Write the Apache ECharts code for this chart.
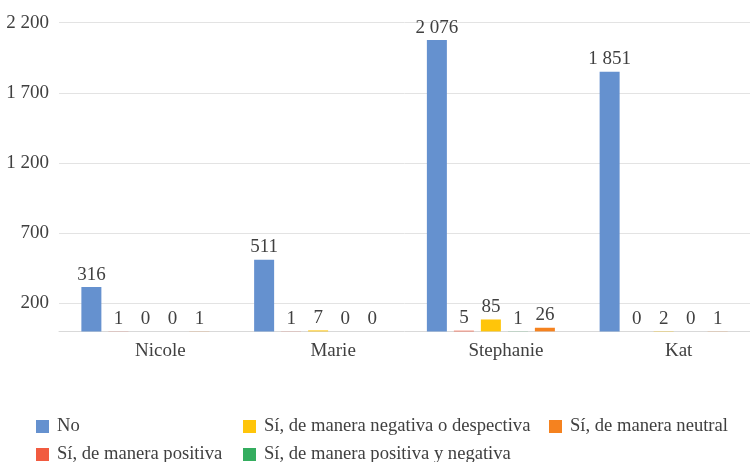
<!DOCTYPE html>
<html>
<head>
<meta charset="utf-8">
<script src="https://cdn.jsdelivr.net/npm/echarts@6/dist/echarts.min.js"></script>
<style>
  html, body { margin: 0; padding: 0; background: #ffffff; }
  #chart { width: 750px; height: 462px; }
</style>
</head>
<body>
<div id="chart"></div>
<script>
// Categories and series values
const categories = ['Nicole', 'Marie', 'Stephanie', 'Kat'];
const seriesNames = [
  'No',
  'Sí, de manera positiva',
  'Sí, de manera negativa o despectiva',
  'Sí, de manera positiva y negativa',
  'Sí, de manera neutral'
];
const valuesNo       = [316, 511, 2076, 1851];
const valuesPositiva = [1, 1, 5, 0];
const valuesNegativa = [0, 7, 85, 2];
const valuesPosNeg   = [0, 0, 1, 0];
const valuesNeutral  = [1, 0, 26, 1];
const yTickValues = [200, 700, 1200, 1700, 2200];

const seriesValues = [valuesNo, valuesPositiva, valuesNegativa, valuesPosNeg, valuesNeutral];
const seriesColors = ['#6591CF', '#F15B40', '#FFC50A', '#34AD5F', '#F5821F'];

const fmt = v => String(v).replace(/\B(?=(\d{3})+(?!\d))/g, ' ');
const FONT = '"Liberation Serif", "Times New Roman", serif';
const TEXT = '#404040';

// Legend slots: [series index, left, top]
const legendSlots = [
  [0, 36, 417],
  [2, 243, 417],
  [4, 549, 417],
  [1, 36, 445],
  [3, 243, 445]
];

const chart = echarts.init(document.getElementById('chart'), null, { renderer: 'canvas' });

chart.setOption({
  animation: false,
  backgroundColor: '#ffffff',
  textStyle: { fontFamily: FONT },
  grid: { left: 59, right: -4, top: 22.7, bottom: 130.6, containLabel: false },
  legend: legendSlots.map(([idx, left, top]) => ({
    left: left,
    top: top,
    padding: 0,
    itemWidth: 13,
    itemHeight: 13,
    icon: 'rect',
    selectedMode: false,
    data: [seriesNames[idx]],
    textStyle: { fontFamily: FONT, fontSize: 18.6, color: TEXT, padding: [0, 0, 0, 3] }
  })),
  xAxis: {
    type: 'category',
    data: categories,
    axisLine: { show: true, lineStyle: { color: '#D9D9D9', width: 1 } },
    axisTick: { show: false },
    axisLabel: {
      fontFamily: FONT, fontSize: 19, color: TEXT, margin: 10,
      padding: [0, 0, 0, 30]
    }
  },
  yAxis: {
    type: 'value',
    min: 0,
    max: 2200,
    axisLine: { show: false },
    axisTick: { show: false, customValues: yTickValues },
    axisLabel: {
      customValues: yTickValues,
      fontFamily: FONT, fontSize: 19, color: TEXT, margin: 10,
      formatter: v => fmt(v)
    },
    splitLine: { show: true, lineStyle: { color: '#E3E3E3', width: 1 } }
  },
  series: seriesNames.map((name, i) => ({
    name: name,
    type: 'bar',
    data: seriesValues[i],
    barWidth: 20,
    barGap: '35%',
    itemStyle: { color: seriesColors[i] },
    label: {
      show: true,
      position: 'top',
      distance: 3,
      fontFamily: FONT,
      fontSize: 19,
      color: TEXT,
      formatter: p => fmt(p.value)
    }
  }))
});
</script>
</body>
</html>
